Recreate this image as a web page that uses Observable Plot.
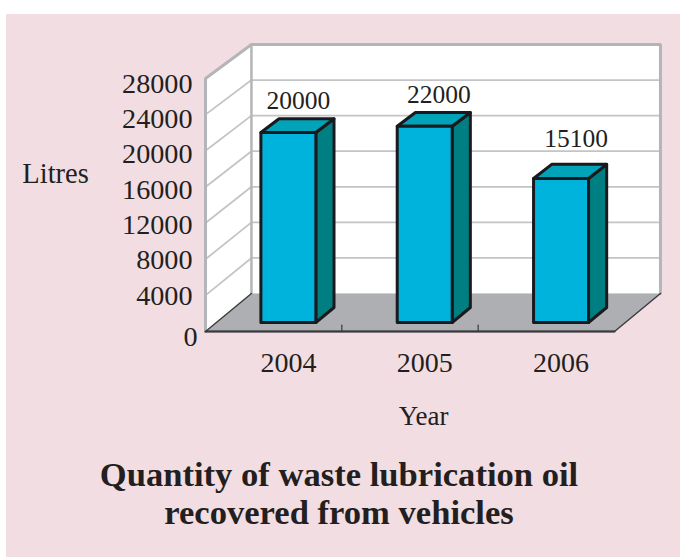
<!DOCTYPE html>
<html>
<head>
<meta charset="utf-8">
<script src="https://cdn.jsdelivr.net/npm/d3@7"></script>
<script src="https://cdn.jsdelivr.net/npm/@observablehq/plot@0.6"></script>
<style>
  html, body { margin: 0; padding: 0; background: #fff; }
  #panel { position: absolute; left: 6px; top: 14px; width: 674px; height: 543px; background: #f2dde2; overflow: hidden;
           font-family: "Liberation Serif", serif; color: #231f20; }
  #panel svg { display: block; background: transparent; overflow: visible; }
  #title { position: absolute; left: 0; top: 441px; width: 666px; text-align: center; font-weight: bold; font-size: 34.6px; line-height: 38px; }
</style>
</head>
<body>
<div id="panel"><div id="chart"></div><div id="title">Quantity of waste lubrication oil<br>recovered from vehicles</div></div>
<script>
// Data
const years = ["2004", "2005", "2006"];
const printedValues = [20000, 22000, 15100];          // numbers printed above the bars
const barHeightsOnAxis = [21100, 21800, 16000];       // bar heights as they measure against the axis
const yTicks = [0, 4000, 8000, 12000, 16000, 20000, 24000, 28000];
const gridValues = [4000, 8000, 12000, 16000, 20000, 24000];

const slots = 3, yMax = 28000;
const ink = "#231f20", wallEdge = "#b3b5b8", gridColor = "#c3c4c6";

// Oblique projection: d = 0 front plane, d = 1 back wall. x is in category slots, y in litres.
const shiftX = 0.337, shiftY = 4205, shrink = 0.0158;
const P = (x, v, d = 0) => ({x: x + d * shiftX, y: v * (1 - d * shrink) + d * shiftY});
const poly = (...pts) => pts.map(([x, v, d]) => P(x, v, d));
const lineOf = (pts, o) => Plot.line(pts, {x: "x", y: "y", curve: "linear", ...o});

// bar placement in slot and depth units
const barCentre = 0.528, barHalf = 0.2016, d0 = 0.237, d1 = 0.632;

const marks = [];
// walls and floor
marks.push(lineOf(poly([0,0,1],[slots,0,1],[slots,yMax,1],[0,yMax,1]), {fill: "#fff"}));
marks.push(lineOf(poly([0,0,0],[0,0,1],[0,yMax,1],[0,yMax,0]), {fill: "#fff"}));
marks.push(lineOf(poly([0,0,0],[slots,0,0],[slots,0,1],[0,0,1]), {fill: "#aeafb3"}));
// gridlines
for (const v of gridValues) {
  marks.push(lineOf(poly([0,v,0],[0,v,1],[slots,v,1]), {stroke: gridColor, strokeWidth: 1.8}));
}
// wall borders
marks.push(lineOf(poly([0,0,0],[0,yMax,0],[0,yMax,1],[slots,yMax,1],[slots,0,1]), {stroke: wallEdge, strokeWidth: 3, strokeLinejoin: "miter"}));
marks.push(lineOf(poly([0,0,1],[0,yMax,1]), {stroke: wallEdge, strokeWidth: 2.5}));
// floor edges
marks.push(lineOf(poly([0,0,1],[0,0,0],[slots,0,0],[slots,0,1]), {stroke: "#3a3a3e", strokeWidth: 1.4}));
marks.push(lineOf(poly([0,0,0],[slots,0,0]), {stroke: "#3a3a3e", strokeWidth: 2}));
// slot tick marks on the floor's front edge
for (const s of [1, 2]) {
  marks.push(lineOf(poly([s,0,0],[s,700,0]), {stroke: "#3a3a3e", strokeWidth: 1.2}));
}
// bars
barHeightsOnAxis.forEach((h, i) => {
  const l = i + barCentre - barHalf, r = i + barCentre + barHalf;
  const o = {stroke: "#1a1a1e", strokeWidth: 3, strokeLinejoin: "round"};
  marks.push(lineOf(poly([r,0,d0],[r,0,d1],[r,h,d1],[r,h,d0],[r,0,d0]), {fill: "#007f83", ...o}));
  marks.push(lineOf(poly([l,h,d0],[l,h,d1],[r,h,d1],[r,h,d0],[l,h,d0]), {fill: "#00a3b8", ...o}));
  marks.push(lineOf(poly([l,0,d0],[r,0,d0],[r,h,d0],[l,h,d0],[l,0,d0]), {fill: "#00b3dc", ...o}));
});
// value labels
const labelRaise = [2000, 2000, 2870];
const labelNudge = [-0.06, -0.03, -0.023];
marks.push(Plot.text(printedValues.map((v, i) => ({
  ...P(i + barCentre + labelNudge[i], barHeightsOnAxis[i] + labelRaise[i], d1), label: String(v)
})), {x: "x", y: "y", text: "label", fontSize: 25.5, fill: ink, lineAnchor: "middle"}));
// tick labels: in the picture they run slightly tighter than the front wall's scale, and the 0 sits closer to the corner
const tickLabelY = v => v === 0 ? 0 : v * 0.9776 + 627;
marks.push(Plot.text(yTicks, {
  x: v => v === 0 ? -0.0587 : -0.0953, y: tickLabelY, text: d => String(d),
  textAnchor: "end", lineAnchor: "middle", dy: 5, fontSize: 28.2, fill: ink
}));
marks.push(Plot.text(years.map((y, i) => ({x: i + barCentre + 0.08, y: -3450, label: y})), {x: "x", y: "y", text: "label", fontSize: 28, fill: ink, lineAnchor: "middle"}));
marks.push(Plot.text([{x: 1.6, y: -9430, label: "Year"}], {x: "x", y: "y", text: "label", fontSize: 27, fill: ink, lineAnchor: "middle"}));
marks.push(Plot.text([{x: -1.1, y: 17500, label: "Litres"}], {x: "x", y: "y", text: "label", fontSize: 28.5, fill: ink, lineAnchor: "middle"}));

const chart = Plot.plot({
  width: 674, height: 426,
  marginLeft: 199, marginRight: 66, marginTop: 64, marginBottom: 109,
  x: {domain: [0, slots], axis: null},
  y: {domain: [0, yMax], axis: null},
  style: {fontFamily: "Liberation Serif", background: "transparent", overflow: "visible"},
  marks
});
document.getElementById("chart").appendChild(chart);
</script>
</body>
</html>
